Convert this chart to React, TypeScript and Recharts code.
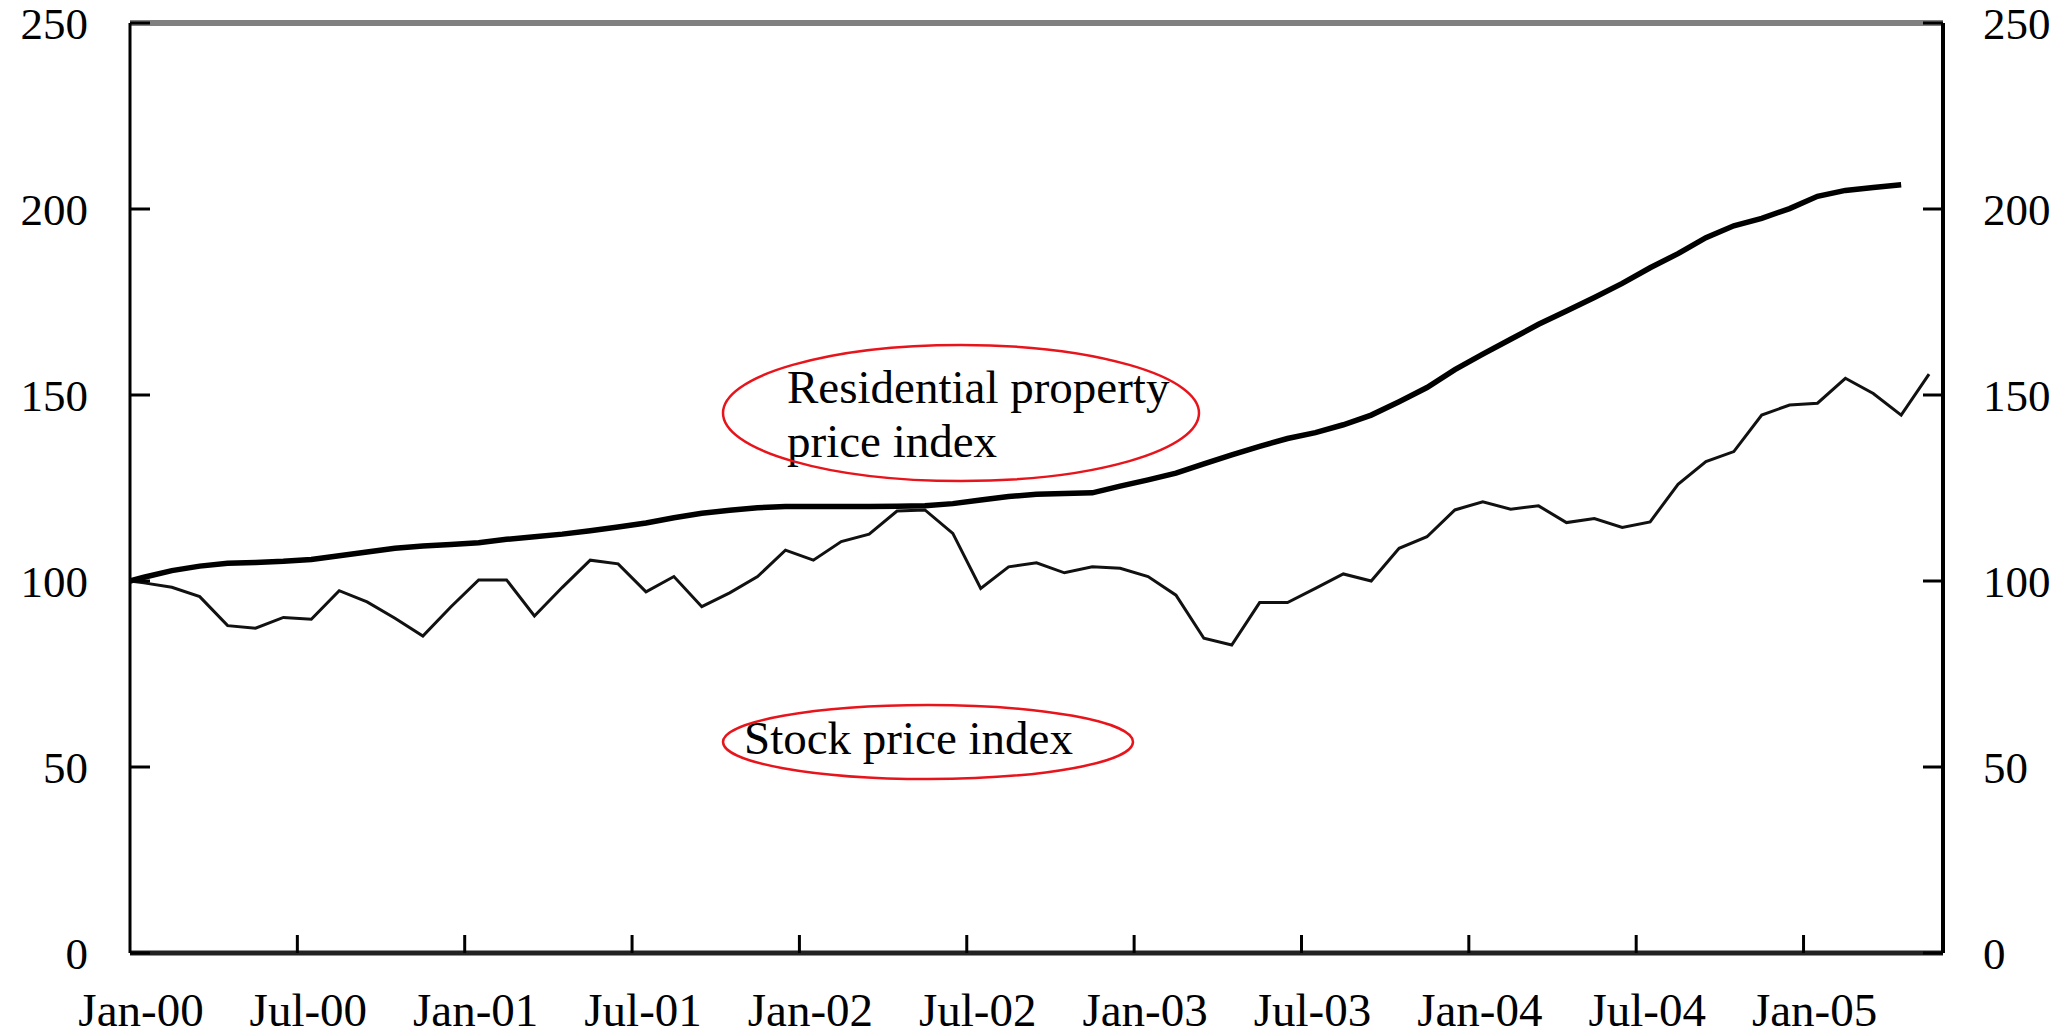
import { LineChart, Line, XAxis, YAxis, ReferenceLine } from "recharts";

// x tick labels, one every 6 months from Jan-00
const tickLabels = [
  "Jan-00", "Jul-00", "Jan-01", "Jul-01", "Jan-02", "Jul-02",
  "Jan-03", "Jul-03", "Jan-04", "Jul-04", "Jan-05",
];
const xTicks = tickLabels.map((_, i) => i * 6);
const yTicks = [0, 50, 100, 150, 200, 250];

// index, Jan-00 = 100 (first value is the base, the rest are monthly readings)
const stockIndex = [
  100, 99.5, 98.3, 95.8, 88.0, 87.3, 90.2, 89.7, 97.4, 94.4, 90.0, 85.2, 93.0,
  100.3, 100.3, 90.6, 98.3, 105.6, 104.6, 97.1, 101.2, 93.1, 96.8, 101.2, 108.3,
  105.6, 110.6, 112.6, 118.8, 119.1, 112.8, 98.0, 103.8, 104.9, 102.2, 103.8,
  103.4, 101.2, 96.2, 84.6, 82.8, 94.2, 94.2, 98.0, 101.9, 100.0, 108.8, 111.9,
  119.1, 121.3, 119.3, 120.2, 115.7, 116.8, 114.4, 115.9, 126.0, 132.1, 134.8,
  144.6, 147.3, 147.8, 154.5, 150.4, 144.6, 155.6,
];

const propertyIndex = [
  100, 101.0, 102.8, 104.0, 104.8, 105.0, 105.3, 105.8, 106.8, 107.8, 108.8,
  109.4, 109.8, 110.3, 111.2, 111.9, 112.6, 113.5, 114.5, 115.6, 117.0, 118.2,
  119.0, 119.7, 120.0, 120.0, 120.0, 120.0, 120.1, 120.2, 120.8, 121.8, 122.7,
  123.3, 123.5, 123.7, 125.5, 127.2, 129.0, 131.5, 133.9, 136.2, 138.3, 139.9,
  142.0, 144.6, 148.2, 152.0, 156.8, 161.0, 165.0, 169.0, 172.6, 176.2, 180.0,
  184.2, 188.0, 192.3, 195.5, 197.5, 200.1, 203.4, 205.0, 205.8, 206.5,
];

// base sits at the start of Jan-00, readings are mid-month
const chartData = stockIndex.map((v, i) => ({
  t: i === 0 ? 0 : i - 0.5,
  stock: v,
  property: propertyIndex[i],
}));

const FONT = "'Liberation Serif', 'Times New Roman', serif";
const FS = 47;
const YFS = 45;

const LeftTick = ({ x, y, payload }: any) => (
  <g>
    <line x1={x} y1={y} x2={x + 20} y2={y} stroke="#000" strokeWidth={3} />
    <text x={x - 42} y={y + 1} textAnchor="end" dominantBaseline="central"
      fontFamily={FONT} fontSize={YFS} fill="#000">
      {payload.value}
    </text>
  </g>
);

const RightTick = ({ x, y, payload }: any) => (
  <g>
    <line x1={x - 20} y1={y} x2={x} y2={y} stroke="#000" strokeWidth={3} />
    <text x={x + 40} y={y + 1} textAnchor="start" dominantBaseline="central"
      fontFamily={FONT} fontSize={YFS} fill="#000">
      {payload.value}
    </text>
  </g>
);

const BottomTick = ({ x, y, payload }: any) => {
  const label = tickLabels[xTicks.indexOf(payload.value)];
  return (
    <g>
      {payload.value > 0 && (
        <line x1={x} y1={y} x2={x} y2={y - 18} stroke="#000" strokeWidth={3} />
      )}
      <text x={x + 11} y={y + 73} textAnchor="middle"
        fontFamily={FONT} fontSize={FS} fill="#000">
        {label}
      </text>
    </g>
  );
};

export default function App() {
  return (
    <div style={{ position: "absolute", left: 0, top: 0, width: 2061, height: 1036, background: "#fff" }}>
      <LineChart
        width={2061}
        height={1036}
        data={chartData}
        margin={{ top: 23, right: 0, bottom: 0, left: 0 }}
      >
        <XAxis
          dataKey="t"
          type="number"
          domain={[0, 65]}
          ticks={xTicks}
          interval={0}
          height={83}
          tickSize={0}
          tickMargin={0}
          tickLine={false}
          axisLine={{ stroke: "#222", strokeWidth: 5 }}
          tick={<BottomTick />}
        />
        <YAxis
          yAxisId="left"
          orientation="left"
          domain={[0, 250]}
          ticks={yTicks}
          interval={0}
          width={130}
          tickSize={0}
          tickMargin={0}
          tickLine={false}
          axisLine={{ stroke: "#000", strokeWidth: 3 }}
          tick={<LeftTick />}
        />
        <YAxis
          yAxisId="right"
          orientation="right"
          domain={[0, 250]}
          ticks={yTicks}
          interval={0}
          width={118}
          tickSize={0}
          tickMargin={0}
          tickLine={false}
          axisLine={{ stroke: "#000", strokeWidth: 4 }}
          tick={<RightTick />}
        />
        <ReferenceLine yAxisId="left" y={250} stroke="#808080" strokeWidth={6} />
        <Line
          yAxisId="left"
          type="linear"
          dataKey="property"
          stroke="#000"
          strokeWidth={5.5}
          dot={false}
          isAnimationActive={false}
        />
        <Line
          yAxisId="right"
          type="linear"
          dataKey="stock"
          stroke="#111"
          strokeWidth={3}
          dot={false}
          isAnimationActive={false}
        />
      </LineChart>
      <svg
        width={2061}
        height={1036}
        style={{ position: "absolute", left: 0, top: 0, pointerEvents: "none" }}
      >
        <g fontFamily={FONT} fontSize={FS} fill="#000">
          <text x={787} y={403}>Residential property</text>
          <text x={787} y={457}>price index</text>
          <text x={744} y={754}>Stock price index</text>
        </g>
        <ellipse cx={961} cy={413} rx={238} ry={68} fill="none" stroke="#e8141c" strokeWidth={2.5} />
        <ellipse cx={928} cy={742} rx={205} ry={37} fill="none" stroke="#e8141c" strokeWidth={2.5} />
      </svg>
    </div>
  );
}
